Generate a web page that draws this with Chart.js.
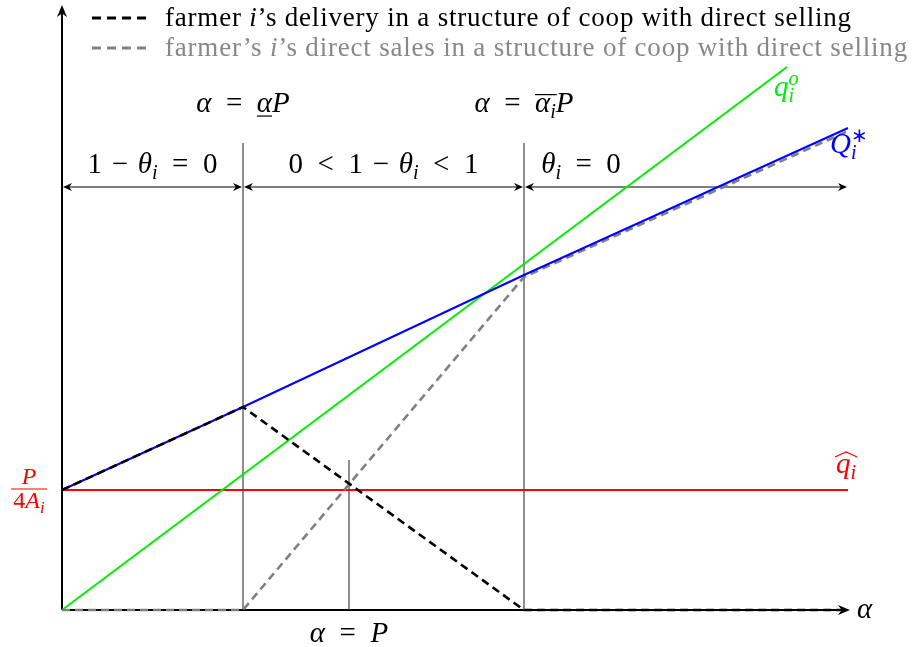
<!DOCTYPE html>
<html>
<head>
<meta charset="utf-8">
<script src="https://cdn.jsdelivr.net/npm/chart.js@4.4.0/dist/chart.umd.min.js"></script>
<style>
  body { margin: 0; background: #fff; }
  canvas { display: block; }
</style>
</head>
<body>
<canvas id="chart" width="912" height="647"></canvas>
<script>
// alpha values where the regimes switch (0, alpha_low*P, alpha_bar*P, end of axis)
const alphaKinks = [0, 1.81, 4.62, 7.86];
const qHat = [1.2, 1.2, 1.2, 1.2];             // \hat q_i = P/4A_i
const qStar = [1.2, 2.03, 3.35, 4.82];         // Q_i^*
const delivery = [1.2, 2.03, 0, 0];            // farmer i's delivery
const deliveryAlpha = [0, 1.81, 4.62, 7.78];
const directSales = [0, 0, 3.33, 4.79];        // farmer i's direct sales
const qOAlpha = [0, 7.25];
const qO = [0, 5.43];                           // q_i^o
const alphaP = 2.87;                            // alpha = P
const guideTop = 4.67;
const midGuideTop = 1.5;
const bandY = 4.23;

const serif = '"Liberation Serif", "Times New Roman", serif';
const mathSize = 29;

const pts = (xs, ys) => xs.map((x, i) => ({x: x, y: ys[i]}));

function lineSet(label, data, color, width, dash) {
  return {
    label: label,
    data: data,
    borderColor: color,
    backgroundColor: color,
    borderWidth: width,
    borderDash: dash || [],
    showLine: true,
    pointRadius: 0,
    tension: 0,
    clip: false
  };
}

const datasets = [
  lineSet('delivery', pts(deliveryAlpha, delivery), '#000', 2.6, [8, 5]),
  lineSet('Q*', pts(alphaKinks, qStar), '#0000ff', 2),
  lineSet('direct', pts(alphaKinks, directSales), '#808080', 2.6, [8, 5]),
  lineSet('qo', pts(qOAlpha, qO), '#00ee00', 2),
  lineSet('qhat', pts(alphaKinks, qHat), '#ff0000', 2),
  lineSet('g1', pts([alphaKinks[1], alphaKinks[1]], [0, guideTop]), '#444', 1.2),
  lineSet('g2', pts([alphaKinks[2], alphaKinks[2]], [0, guideTop]), '#444', 1.2),
  lineSet('g3', pts([alphaP, alphaP], [0, midGuideTop]), '#444', 1.2)
];

// ---- small math text helper: parts = [[text, flags]]
// flags: i italic, s subscript, p superscript, k no advance, u underline, o overline
function layoutMath(ctx, parts, size) {
  let x = 0, maxX = 0;
  const items = parts.map(([t, f]) => {
    const sz = (f.includes('s') || f.includes('p')) ? size * 0.7 : size;
    ctx.font = (f.includes('i') ? 'italic ' : '') + sz + 'px ' + serif;
    const w = ctx.measureText(t).width;
    const dy = f.includes('s') ? size * 0.22 : f.includes('p') ? -size * 0.38 : 0;
    const it = {t, f, sz, w, x, dy};
    maxX = Math.max(maxX, x + w);
    if (!f.includes('k')) x += w;
    return it;
  });
  return {items, width: Math.max(x, maxX)};
}

function drawMath(ctx, parts, x, y, align, color, size, spacing) {
  size = size || mathSize;
  ctx.save();
  if (spacing) ctx.letterSpacing = spacing + 'px';
  const lay = layoutMath(ctx, parts, size);
  let x0 = x;
  if (align === 'center') x0 = x - lay.width / 2;
  if (align === 'right') x0 = x - lay.width;
  ctx.fillStyle = color;
  ctx.strokeStyle = color;
  ctx.textBaseline = 'alphabetic';
  ctx.textAlign = 'left';
  lay.items.forEach(it => {
    ctx.font = (it.f.includes('i') ? 'italic ' : '') + it.sz + 'px ' + serif;
    ctx.fillText(it.t, x0 + it.x, y + it.dy);
    ctx.lineWidth = 1.2;
    if (it.f.includes('u')) {
      ctx.beginPath();
      ctx.moveTo(x0 + it.x, y + size * 0.14);
      ctx.lineTo(x0 + it.x + it.w, y + size * 0.14);
      ctx.stroke();
    }
    if (it.f.includes('o')) {
      ctx.beginPath();
      ctx.moveTo(x0 + it.x, y - size * 0.6);
      ctx.lineTo(x0 + it.x + it.w + 1, y - size * 0.6);
      ctx.stroke();
    }
  });
  ctx.restore();
  return {x0, width: lay.width};
}

function arrowHead(ctx, x, y, ang, len, half) {
  ctx.save();
  ctx.translate(x, y);
  ctx.rotate(ang);
  ctx.beginPath();
  ctx.moveTo(0, 0);
  ctx.lineTo(-len, -half);
  ctx.lineTo(-len * 0.7, 0);
  ctx.lineTo(-len, half);
  ctx.closePath();
  ctx.fill();
  ctx.restore();
}

const axesPlugin = {
  id: 'axes',
  beforeDatasetsDraw(chart) {
    const ctx = chart.ctx;
    const xs = chart.scales.x, ys = chart.scales.y;
    const ox = xs.getPixelForValue(0), oy = ys.getPixelForValue(0);
    const right = xs.getPixelForValue(alphaKinks[3]);
    ctx.save();
    ctx.strokeStyle = '#000';
    ctx.fillStyle = '#000';
    ctx.lineWidth = 2;
    ctx.beginPath();
    ctx.moveTo(ox, oy); ctx.lineTo(right - 4, oy);
    ctx.moveTo(ox, oy); ctx.lineTo(ox, chart.chartArea.top + 4);
    ctx.stroke();
    arrowHead(ctx, right + 2, oy, 0, 12, 5);
    arrowHead(ctx, ox, chart.chartArea.top, -Math.PI / 2, 12, 5);

    // regime bands with double arrows
    const by = ys.getPixelForValue(bandY);
    ctx.lineWidth = 1.2;
    for (let i = 0; i < 3; i++) {
      const a = xs.getPixelForValue(alphaKinks[i]) + 1;
      const b = xs.getPixelForValue(alphaKinks[i + 1]) - 1;
      ctx.beginPath();
      ctx.moveTo(a + 3, by); ctx.lineTo(b - 3, by);
      ctx.stroke();
      arrowHead(ctx, a, by, Math.PI, 9, 4);
      arrowHead(ctx, b, by, 0, 9, 4);
    }
    ctx.restore();
  },
  afterDatasetsDraw(chart) {
    const ctx = chart.ctx;
    const xs = chart.scales.x, ys = chart.scales.y;
    const px = v => xs.getPixelForValue(v);
    const py = v => ys.getPixelForValue(v);
    const k1 = px(alphaKinks[1]), k2 = px(alphaKinks[2]);
    const eq = '\u2002=\u2002', lt = '\u2002<\u2002', minus = '\u2004−\u2004';

    drawMath(ctx, [['α', 'i'], [eq, ''], ['α', 'iu'], ['P', 'i']], k1, 112, 'center', '#000');
    drawMath(ctx, [['α', 'i'], [eq, ''], ['α', 'io'], ['i', 'iso'], ['P', 'i']], k2, 112, 'center', '#000');
    drawMath(ctx, [['1' + minus, ''], ['θ', 'i'], ['i', 'is'], [eq + '0', '']], (px(0) + k1) / 2, 173, 'center', '#000');
    drawMath(ctx, [['0' + lt + '1' + minus, ''], ['θ', 'i'], ['i', 'is'], [lt + '1', '']], (k1 + k2) / 2, 173, 'center', '#000');
    drawMath(ctx, [['θ', 'i'], ['i', 'is'], [eq + '0', '']], 581, 173, 'center', '#000');
    drawMath(ctx, [['α', 'i'], [eq, ''], ['P', 'i']], px(alphaP), 642, 'center', '#000');
    drawMath(ctx, [['α', 'i']], 857, py(0) + 8, 'left', '#000');

    // curve labels
    drawMath(ctx, [['q', 'i'], ['i', 'isk'], ['o', 'ip']], 774, 96, 'left', '#00ee00');
    drawMath(ctx, [['Q', 'i'], ['i', 'isk'], ['∗', 'p']], 830, 153, 'left', '#0000ff');
    const h = drawMath(ctx, [['q', 'i'], ['i', 'is']], 836, 473, 'left', '#ff0000');
    ctx.save();
    ctx.strokeStyle = '#ff0000';
    ctx.lineWidth = 1.2;
    ctx.beginPath();
    ctx.moveTo(h.x0 - 1, 457);
    ctx.lineTo(h.x0 + h.width / 2, 452);
    ctx.lineTo(h.x0 + h.width + 1, 457);
    ctx.stroke();
    ctx.restore();

    // P / 4A_i
    const fy = py(qHat[0]) - 1;
    drawMath(ctx, [['P', 'i']], 29, fy - 5, 'center', '#ff0000', 24);
    drawMath(ctx, [['4', ''], ['A', 'i'], ['i', 'is']], 29, fy + 19, 'center', '#ff0000', 24);
    ctx.save();
    ctx.strokeStyle = '#ff0000';
    ctx.lineWidth = 1.2;
    ctx.beginPath();
    ctx.moveTo(11, fy); ctx.lineTo(47, fy);
    ctx.stroke();
    ctx.restore();

    // legend
    const leg = [
      {ds: 0, color: '#000', parts: [['farmer ', ''], ['i', 'i'], ['’s delivery in a structure of coop with direct selling', '']]},
      {ds: 2, color: '#888', parts: [['farmer’s ', ''], ['i', 'i'], ['’s direct sales in a structure of coop with direct selling', '']]}
    ];
    leg.forEach((l, i) => {
      const d = chart.data.datasets[l.ds];
      const y = 18 + i * 30;
      ctx.save();
      ctx.strokeStyle = d.borderColor;
      ctx.lineWidth = 3;
      ctx.setLineDash([9, 6]);
      ctx.beginPath();
      ctx.moveTo(92, y); ctx.lineTo(152, y);
      ctx.stroke();
      ctx.restore();
      drawMath(ctx, l.parts, 165, y + 8, 'left', l.color, 27, 0.8);
    });
  }
};

new Chart(document.getElementById('chart').getContext('2d'), {
  type: 'scatter',
  data: {datasets: datasets},
  options: {
    responsive: false,
    devicePixelRatio: 1,
    animation: false,
    layout: {padding: {left: 62, right: 64, top: 5, bottom: 37}},
    scales: {
      x: {type: 'linear', display: false, min: 0, max: alphaKinks[3]},
      y: {type: 'linear', display: false, min: 0, max: 6.05}
    },
    plugins: {legend: {display: false}, tooltip: {enabled: false}}
  },
  plugins: [axesPlugin]
});
</script>
</body>
</html>
